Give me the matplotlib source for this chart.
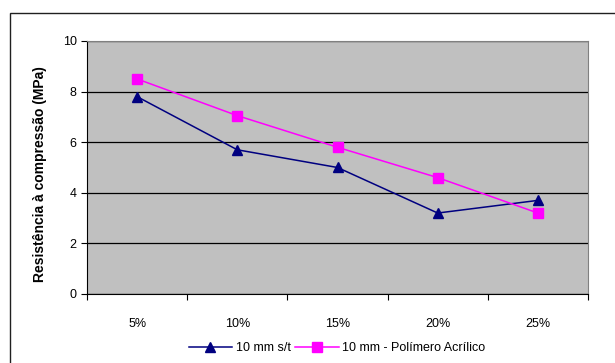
import matplotlib.pyplot as plt
from matplotlib.patches import Rectangle

plt.rcParams['font.family'] = ['Liberation Sans', 'DejaVu Sans']

# Teor de fibra e resistência à compressão
categorias = ['5%', '10%', '15%', '20%', '25%']
serie_st = [7.8, 5.7, 5.0, 3.2, 3.7]
serie_acrilico = [8.5, 7.05, 5.8, 4.6, 3.2]
nome_st = '10 mm s/t'
nome_acrilico = '10 mm - Polímero Acrílico'
y_ticks = [0, 2, 4, 6, 8, 10]

fig = plt.figure(figsize=(6.15, 3.63), dpi=100)
ax = fig.add_axes([87 / 615, 1 - 294 / 363, 501 / 615, 253 / 363])

# moldura externa do gráfico
fig.patches.append(Rectangle((9.5 / 615, -0.2), 1.2, 0.2 + 1 - 13 / 363,
                             transform=fig.transFigure, fill=False,
                             edgecolor='#202020', linewidth=1.0))

ax.set_facecolor('#C0C0C0')
xs = [i + 0.5 for i in range(len(categorias))]

ax.plot(xs, serie_st, color='#000080', marker='^', markersize=7,
        linewidth=1.1, label=nome_st, zorder=3)
ax.plot(xs, serie_acrilico, color='#FF00FF', marker='s', markersize=6.5,
        linewidth=1.1, label=nome_acrilico, zorder=3)

ax.set_xlim(0, len(categorias))
ax.set_ylim(0, 10)
ax.set_yticks(y_ticks)
ax.yaxis.grid(True, color='black', linewidth=0.9)
ax.set_axisbelow(True)

# ticks nas divisões entre categorias, rótulos no centro
ax.set_xticks(range(len(categorias) + 1))
ax.set_xticklabels([])
ax.set_xticks(xs, minor=True)
ax.set_xticklabels(categorias, minor=True)
ax.tick_params(axis='x', which='minor', length=0, pad=17, labelsize=9)
ax.tick_params(axis='x', which='major', length=4, direction='out', width=0.8)
ax.tick_params(axis='y', length=4, direction='out', width=0.8, labelsize=9)

for lado in ['top', 'right']:
    ax.spines[lado].set_color('#808080')
for lado in ['left', 'bottom']:
    ax.spines[lado].set_color('black')

ax.set_ylabel('Resistência à compressão (MPa)', fontsize=10, fontweight='bold')
ax.yaxis.set_label_coords(-0.079, 0.476)

fig.legend(loc='center', bbox_to_anchor=(337 / 615, 1 - 348 / 363), ncol=2,
           frameon=False, fontsize=9, handlelength=3.5, columnspacing=0.3,
           handletextpad=0.3)

fig.savefig('out.png', dpi=100)
